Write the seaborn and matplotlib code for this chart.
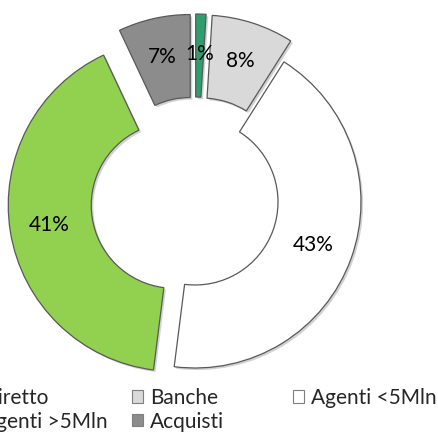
import matplotlib
matplotlib.use("Agg")
import matplotlib.pyplot as plt
import matplotlib.patches as mpatches
import matplotlib.patheffects as pe
import seaborn as sns

sns.set_theme(style="white")
plt.rcParams['font.family'] = ['Lato', 'DejaVu Sans']

# ---- data (clockwise from 12 o'clock) ----
categories = ["Diretto", "Banche", "Agenti <5Mln", "Agenti >5Mln", "Acquisti"]
values = [1, 8, 43, 41, 7]
colors = ["#2E9E6F", "#D9D9D9", "#FFFFFF", "#92D050", "#8C8C8C"]
explode_px = [22, 22, 0, 21, 22]

# legend layout (columns as in reference)
legend_columns = [["Diretto", "Agenti >5Mln"], ["Banche", "Acquisti"], ["Agenti <5Mln"]]

W, H = 439, 434
cx, cy, R = 195, 202, 166

fig = plt.figure(figsize=(W / 100, H / 100), dpi=100)
fig.patch.set_facecolor("white")
ax = fig.add_axes([0, 0, 1, 1])

wedges, texts, autotexts = ax.pie(
    values,
    colors=colors,
    explode=explode_px,
    startangle=90,
    counterclock=False,
    radius=R,
    center=(0, 0),
    autopct="%1.0f%%",
    pctdistance=0.76,
    wedgeprops=dict(width=R * 0.5, edgecolor="#595959", linewidth=0.9),
    textprops=dict(fontsize=15, color="black"),
    frame=False,
)
for w in wedges:
    w.set_path_effects([pe.SimplePatchShadow(offset=(1.5, -1.5), shadow_rgbFace="#808080", alpha=0.35),
                        pe.Normal()])

ax.set_xlim(-cx, W - cx)
ax.set_ylim(-(H - cy), cy)
ax.set_aspect("equal")
ax.axis("off")

color_of = dict(zip(categories, colors))
col_x = [-36, 132, 293]
top_y = 388
for xs, col in zip(col_x, legend_columns):
    handles = [mpatches.Patch(facecolor=color_of[c], edgecolor="#7F7F7F", linewidth=0.8) for c in col]
    fig.legend(handles, col, loc="upper left",
               bbox_to_anchor=(xs / W, 1 - top_y / H),
               frameon=False, fontsize=15, borderpad=0, borderaxespad=0,
               handlelength=0.55, handleheight=0.55, handletextpad=0.3,
               labelspacing=0.17)

fig.savefig("out.png", dpi=100, facecolor="white")
